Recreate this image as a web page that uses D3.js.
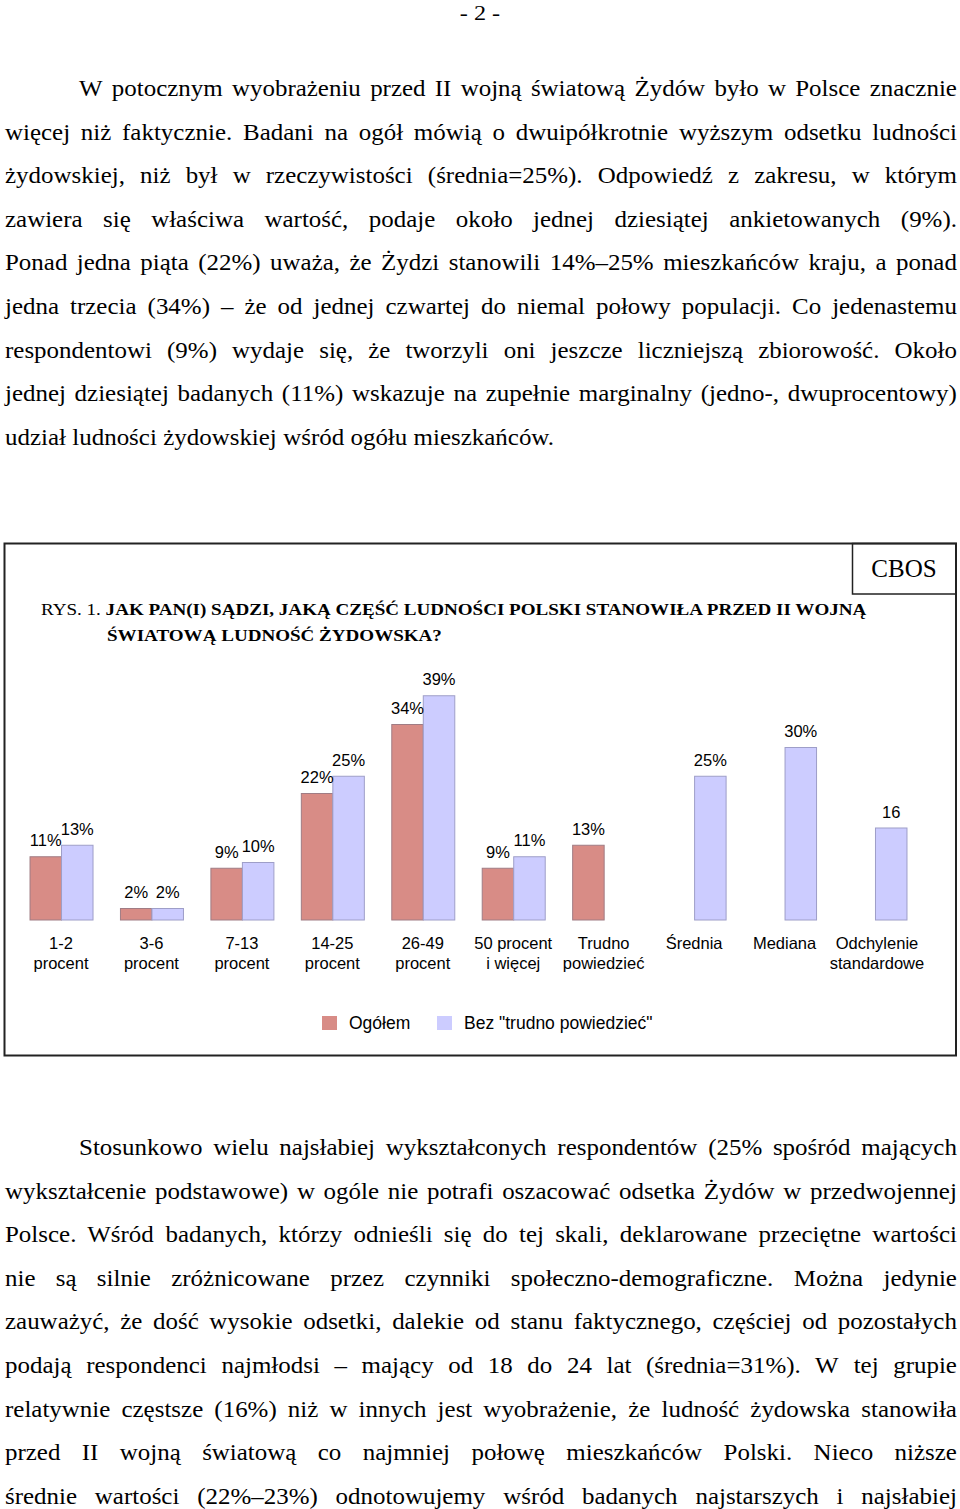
<!DOCTYPE html>
<html lang="pl">
<head>
<meta charset="utf-8">
<script src="https://cdn.jsdelivr.net/npm/d3@7"></script>
<style>
  html, body { margin: 0; padding: 0; background: #fff; }
  svg { display: block; }
</style>
</head>
<body>
<script>
// ---------- DATA ----------
const categories = ["1-2\nprocent", "3-6\nprocent", "7-13\nprocent", "14-25\nprocent", "26-49\nprocent",
  "50 procent\ni więcej", "Trudno\npowiedzieć", "Średnia", "Mediana", "Odchylenie\nstandardowe"];
const seriesNames = ["Ogółem", "Bez \"trudno powiedzieć\""];
const ogolem    = [11, 2, 9, 22, 34, 9, 13, null, null, null];
const bezTrudno = [13, 2, 10, 25, 39, 11, null, 25, 30, 16];
const units     = ["%", "%", "%", "%", "%", "%", "%", "%", "%", ""];

const pageNumber = "- 2 -";
const figureLabel = "RYS. 1. ";
const figureTitle = ["JAK PAN(I) SĄDZI, JAKĄ CZĘŚĆ LUDNOŚCI POLSKI STANOWIŁA PRZED II WOJNĄ",
  "ŚWIATOWĄ LUDNOŚĆ ŻYDOWSKA?"];
const sourceLabel = "CBOS";

const paragraph1 = [
  "W potocznym wyobrażeniu przed II wojną światową Żydów było w Polsce znacznie",
  "więcej niż faktycznie. Badani na ogół mówią o dwuipółkrotnie wyższym odsetku ludności",
  "żydowskiej, niż był w rzeczywistości (średnia=25%). Odpowiedź z zakresu, w którym",
  "zawiera się właściwa wartość, podaje około jednej dziesiątej ankietowanych (9%).",
  "Ponad jedna piąta (22%) uważa, że Żydzi stanowili 14%–25% mieszkańców kraju, a ponad",
  "jedna trzecia (34%) – że od jednej czwartej do niemal połowy populacji. Co jedenastemu",
  "respondentowi (9%) wydaje się, że tworzyli oni jeszcze liczniejszą zbiorowość. Około",
  "jednej dziesiątej badanych (11%) wskazuje na zupełnie marginalny (jedno-, dwuprocentowy)",
  "udział ludności żydowskiej wśród ogółu mieszkańców."
];
const paragraph2 = [
  "Stosunkowo wielu najsłabiej wykształconych respondentów (25% spośród mających",
  "wykształcenie podstawowe) w ogóle nie potrafi oszacować odsetka Żydów w przedwojennej",
  "Polsce. Wśród badanych, którzy odnieśli się do tej skali, deklarowane przeciętne wartości",
  "nie są silnie zróżnicowane przez czynniki społeczno-demograficzne. Można jedynie",
  "zauważyć, że dość wysokie odsetki, dalekie od stanu faktycznego, częściej od pozostałych",
  "podają respondenci najmłodsi – mający od 18 do 24 lat (średnia=31%). W tej grupie",
  "relatywnie częstsze (16%) niż w innych jest wyobrażenie, że ludność żydowska stanowiła",
  "przed II wojną światową co najmniej połowę mieszkańców Polski. Nieco niższe",
  "średnie wartości (22%–23%) odnotowujemy wśród badanych najstarszych i najsłabiej"
];

// ---------- LAYOUT ----------
const W = 960, H = 1509;
const serif = "'Liberation Serif', 'Times New Roman', serif";
const sans = "'Liberation Sans', Arial, sans-serif";

const svg = d3.select("body").append("svg").attr("width", W).attr("height", H);
svg.append("rect").attr("width", W).attr("height", H).attr("fill", "#fff");

// page number
svg.append("text").attr("transform", "translate(480,20) scale(1.1,1)").attr("text-anchor", "middle")
  .style("font-family", serif).style("font-size", "22px").text(pageNumber);

// justified paragraphs (glyphs slightly widened, as in the scanned page)
const bodyFont = 22.5, sx = 1.11;
const textLeft = 5, textRight = 957, indent = 79, lineGap = 43.6;
const measurer = svg.append("text").style("font-family", serif).style("font-size", bodyFont + "px")
  .attr("x", -1000).attr("y", -1000);
function measure(s) { measurer.text(s); return measurer.node().getComputedTextLength() * sx; }
const spaceW = measure("a a") - measure("aa");

function drawParagraph(lines, y0, lastJustified) {
  lines.forEach((line, i) => {
    const startX = i === 0 ? indent : textLeft;
    const words = line.split(" ");
    const widths = words.map(measure);
    const total = d3.sum(widths);
    const justify = i < lines.length - 1 || lastJustified;
    const gap = justify && words.length > 1 ? (textRight - startX - total) / (words.length - 1) : spaceW;
    let x = startX;
    const t = svg.append("text")
      .attr("transform", `translate(0,${y0 + i * lineGap}) scale(${sx},1)`)
      .style("font-family", serif).style("font-size", bodyFont + "px").attr("fill", "#000");
    words.forEach((w, j) => {
      t.append("tspan").attr("x", x / sx).text((j > 0 ? " " : "") + w)
        .attr("dx", j > 0 ? -spaceW / sx : 0);
      x += widths[j] + gap;
    });
  });
}
drawParagraph(paragraph1, 96, false);
drawParagraph(paragraph2, 1155, true);
measurer.remove();

// ---------- CHART FRAME ----------
const frame = svg.append("g");
frame.append("rect").attr("x", 4.5).attr("y", 543.5).attr("width", 951.5).attr("height", 512)
  .attr("fill", "none").attr("stroke", "#222").attr("stroke-width", 2);
frame.append("rect").attr("x", 852.5).attr("y", 543.5).attr("width", 103.5).attr("height", 50.5)
  .attr("fill", "none").attr("stroke", "#222").attr("stroke-width", 1.5);
frame.append("text").attr("x", 904).attr("y", 577).attr("text-anchor", "middle")
  .style("font-family", serif).style("font-size", "25px").text(sourceLabel);

const tsx = 1.122;
const title = svg.append("text").attr("transform", `translate(41,615) scale(${tsx},1)`)
  .style("font-family", serif).style("font-size", "17px");
title.append("tspan").text(figureLabel);
title.append("tspan").style("font-weight", "bold").text(figureTitle[0]);
svg.append("text").attr("transform", `translate(107,641) scale(${tsx},1)`)
  .style("font-family", serif).style("font-size", "17px").style("font-weight", "bold")
  .text(figureTitle[1]);

// ---------- BARS ----------
const colors = ["#d88c86", "#ccccff"];
const strokes = ["#a07c84", "#9e9ec8"];
const series = [ogolem, bezTrudno];

const x0 = d3.scaleBand().domain(categories).range([15.8, 920.2])
  .paddingInner(0.3034).paddingOuter(0.1517);
const x1 = d3.scaleBand().domain(seriesNames).range([0, x0.bandwidth()]);
const y = d3.scaleLinear().domain([0, 40]).range([920, 690]);

const data = [];
categories.forEach((c, i) => {
  series.forEach((s, k) => {
    if (s[i] != null) data.push({ cat: c, ser: seriesNames[k], k, v: s[i], unit: units[i] });
  });
});

const chart = svg.append("g");
chart.selectAll("rect.bar").data(data).join("rect").attr("class", "bar")
  .attr("x", d => x0(d.cat) + x1(d.ser) + 0.5)
  .attr("y", d => y(d.v))
  .attr("width", x1.bandwidth())
  .attr("height", d => y(0) - y(d.v))
  .attr("fill", d => colors[d.k])
  .attr("stroke", d => strokes[d.k]).attr("stroke-width", 1);

chart.selectAll("text.val").data(data).join("text").attr("class", "val")
  .attr("x", d => x0(d.cat) + x1(d.ser) + x1.bandwidth() / 2 + 0.5)
  .attr("y", d => y(d.v) - 10.5)
  .attr("text-anchor", "middle")
  .style("font-family", sans).style("font-size", "16.5px")
  .text(d => d.v + d.unit);

// category labels
const catG = chart.selectAll("text.cat").data(categories).join("text").attr("class", "cat")
  .attr("text-anchor", "middle")
  .style("font-family", sans).style("font-size", "16.5px");
catG.each(function (c, i) {
  const parts = c.split("\n");
  const cx = x0(c) + x0.bandwidth() / 2 + (i === categories.length - 1 ? 2 : 0);
  parts.forEach((p, j) => {
    d3.select(this).append("tspan").attr("x", cx).attr("y", 949 + j * 20).text(p);
  });
});

// legend
const legendX = [322, 437];
const legend = chart.selectAll("g.leg").data(seriesNames).join("g").attr("class", "leg");
legend.append("rect").attr("x", (d, i) => legendX[i]).attr("y", 1016).attr("width", 15).attr("height", 14)
  .attr("fill", (d, i) => colors[i]);
legend.append("text").attr("x", (d, i) => legendX[i] + 27).attr("y", 1029)
  .style("font-family", sans).style("font-size", "17.5px").text(d => d);
</script>
</body>
</html>
